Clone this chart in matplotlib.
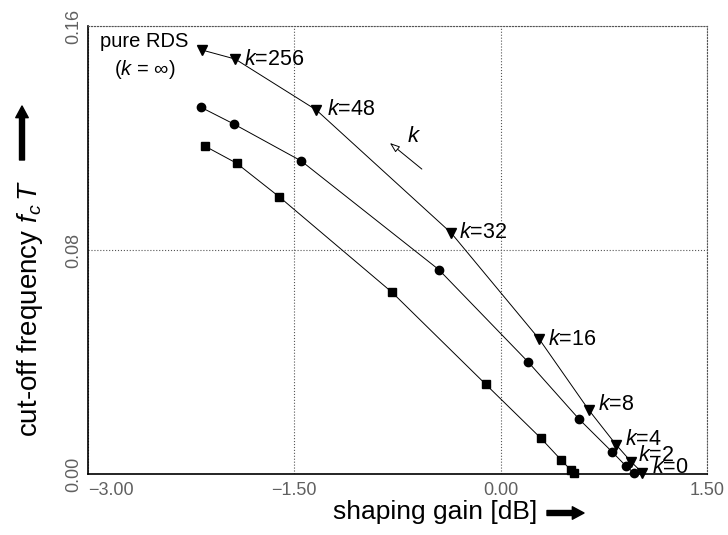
import matplotlib
matplotlib.use("Agg")
import matplotlib.pyplot as plt

plt.rcParams['font.family'] = ['Liberation Sans', 'DejaVu Sans']
plt.rcParams['mathtext.fontset'] = 'custom'
plt.rcParams['mathtext.rm'] = 'Liberation Sans'
plt.rcParams['mathtext.it'] = 'Liberation Sans:italic'

# values
tri_x = [-2.17, -1.93, -1.34, -0.36, 0.28, 0.64, 0.84, 0.95, 1.03]
tri_y = [0.1514, 0.1482, 0.1300, 0.0861, 0.0482, 0.0229, 0.0104, 0.0043, 0.0004]
k_labels = ["256", "48", "32", "16", "8", "4", "2", "0"]

circ_x = [-2.18, -1.94, -1.45, -0.45, 0.20, 0.57, 0.81, 0.91, 0.97]
circ_y = [0.1310, 0.1250, 0.1118, 0.0730, 0.0400, 0.0196, 0.0079, 0.0029, 0.0003]

sq_x = [-2.15, -1.92, -1.61, -0.79, -0.11, 0.29, 0.44, 0.51, 0.53]
sq_y = [0.1171, 0.1110, 0.0990, 0.0649, 0.0321, 0.0129, 0.0050, 0.0014, 0.0002]

x_ticks = [-3.0, -1.5, 0.0, 1.5]
y_ticks = [0.0, 0.08, 0.16]

fig = plt.figure(figsize=(7.28, 5.35), dpi=100)
ax = fig.add_axes([88/728, 1-474/535, 619/728, 448/535])

ax.plot(tri_x, tri_y, '-v', color='k', lw=0.7, ms=7, clip_on=False)
ax.plot(circ_x, circ_y, '-o', color='k', lw=0.7, ms=6, clip_on=False)
ax.plot(sq_x, sq_y, '-s', color='k', lw=0.7, ms=6, clip_on=False)

# k labels next to the triangle points (skip the first one, k = inf)
offsets = [(6, 0), (8, 0), (6, 0), (6, 0), (7, 4), (6, 4), (5, 5), (7, 4)]
for i, lab in enumerate(k_labels):
    ax.annotate("$k$=" + lab, (tri_x[i+1], tri_y[i+1]), xytext=offsets[i],
                textcoords='offset points', fontsize=15.5, va='center', ha='left')

ax.text(-2.59, 0.1543, "pure RDS", fontsize=14.5, ha='center', va='center')
ax.text(-2.59, 0.1443, "($k$ = \u221e)", fontsize=14.5, ha='center', va='center')

# direction of increasing k
ax.annotate('', xy=(-0.805, 0.1182), xytext=(-0.573, 0.1089),
            arrowprops=dict(arrowstyle='-|>,head_length=0.6,head_width=0.22',
                            fc='white', ec='k', lw=0.7, shrinkA=0, shrinkB=0))
ax.text(-0.63, 0.1205, "$k$", fontsize=16, ha='center', va='center')

ax.set_xlim(-3.0, 1.5)
ax.set_ylim(0.0, 0.16)
ax.set_xticks(x_ticks)
ax.set_yticks(y_ticks)
ax.set_xticklabels(["\u22123.00", "\u22121.50", "0.00", "1.50"])
ax.set_yticklabels(["0.00", "0.08", "0.16"], rotation=90, va='center')
ax.get_xticklabels()[0].set_ha('left')
ax.tick_params(length=0, labelsize=13, labelcolor='#606060')
ax.tick_params(axis='x', pad=6)
ax.tick_params(axis='y', pad=4)
ax.grid(True, ls=':', color='#555555', lw=0.8)

for s in ['top', 'right']:
    ax.spines[s].set_linestyle(':')
    ax.spines[s].set_color('#555555')
    ax.spines[s].set_linewidth(0.8)
for s in ['left', 'bottom']:
    ax.spines[s].set_linewidth(1.2)

fig.text(435/728, 1-512/535, "shaping gain [dB]", fontsize=19, ha='center', va='center')
fig.text(30/728, 1-308/535, "cut-off frequency $f_{c}\\,T$", fontsize=20,
         ha='center', va='center', rotation=90)

arrow = dict(arrowstyle='simple,head_length=0.7,head_width=0.75,tail_width=0.3',
             color='k', shrinkA=0, shrinkB=0)
fig.add_artist(plt.matplotlib.text.Annotation('', xy=(584/728, 1-513/535), xytext=(547/728, 1-513/535),
               xycoords='figure fraction', arrowprops=dict(arrow, mutation_scale=12)))
fig.add_artist(plt.matplotlib.text.Annotation('', xy=(22/728, 1-106/535), xytext=(22/728, 1-160/535),
               xycoords='figure fraction', arrowprops=dict(arrow, mutation_scale=12)))

fig.savefig("out.png", dpi=100)
